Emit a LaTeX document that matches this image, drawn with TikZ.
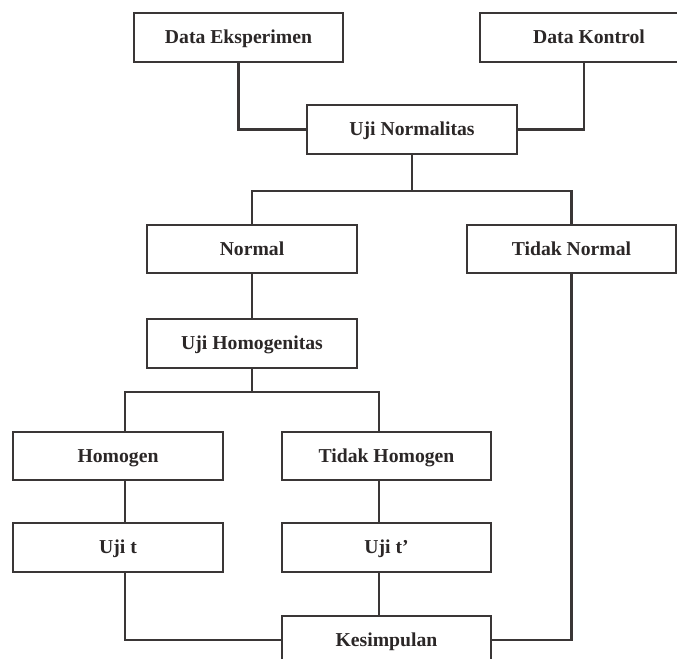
\documentclass[tikz,border=0pt]{standalone}
\usepackage{fontspec}
\setmainfont{Liberation Serif}
\definecolor{lc}{HTML}{3A3636}
\definecolor{tc}{HTML}{2B2727}
\begin{document}
\begin{tikzpicture}[x=0.03cm,y=-0.03cm,
  box/.style={draw=lc,line width=2pt,fill=white,inner sep=0pt,
    minimum width=6.3cm,minimum height=1.46cm,text=tc,
    font=\fontsize{16.8}{20}\selectfont\bfseries,
    text height=11pt,text depth=0pt},
  conn/.style={draw=lc,line width=2pt,line join=miter}]
\useasboundingbox (0,0) rectangle (677,658);
% nodes
\node[box,minimum width=6.27cm] (DE) at (238.5,37.5) {Data Eksperimen};
\node[box,minimum width=6.54cm] (DK) at (589,37.5) {Data Kontrol};
\node[box] (UN) at (412,129.5) {Uji Normalitas};
\node[box,minimum height=1.44cm] (N) at (252,249) {Normal};
\node[box,minimum width=6.27cm,minimum height=1.44cm] (TN) at (571.5,249) {Tidak Normal};
\node[box] (UH) at (252,343.5) {Uji Homogenitas};
\node[box,minimum height=1.44cm] (H) at (118,456) {Homogen};
\node[box,minimum width=6.27cm,minimum height=1.44cm] (TH) at (386.5,456) {Tidak Homogen};
\node[box] (UT) at (118,547.5) {Uji t};
\node[box,minimum width=6.27cm] (UT2) at (386.5,547.5) {Uji t’};
\node[box,minimum width=6.27cm,minimum height=1.44cm] (K) at (386.5,640) {Kesimpulan};
% helper coordinates
\coordinate (kx) at (584,0);
\coordinate (j1) at (412,191);
\coordinate (j2) at (252,392);
\coordinate (lx) at (125,392);
\coordinate (rx) at (379,392);
% connectors
\draw[conn] (DE.south) |- (UN.west);
\draw[conn] (DK.south -| kx) |- (UN.east);
\draw[conn] (UN.south) -- (j1);
\draw[conn] (N.north) |- (j1) -| (TN.north);
\draw[conn] (N.south) -- (UH.north);
\draw[conn] (UH.south) -- (j2);
\draw[conn] (H.north -| lx) -- (lx) -- (rx) -- (TH.north -| rx);
\draw[conn] (H.south -| lx) -- (UT.north -| lx);
\draw[conn] (TH.south -| rx) -- (UT2.north -| rx);
\draw[conn] (UT.south -| lx) |- (K.west);
\draw[conn] (UT2.south -| rx) -- (K.north -| rx);
\draw[conn] (TN.south) |- (K.east);
\end{tikzpicture}
\end{document}
